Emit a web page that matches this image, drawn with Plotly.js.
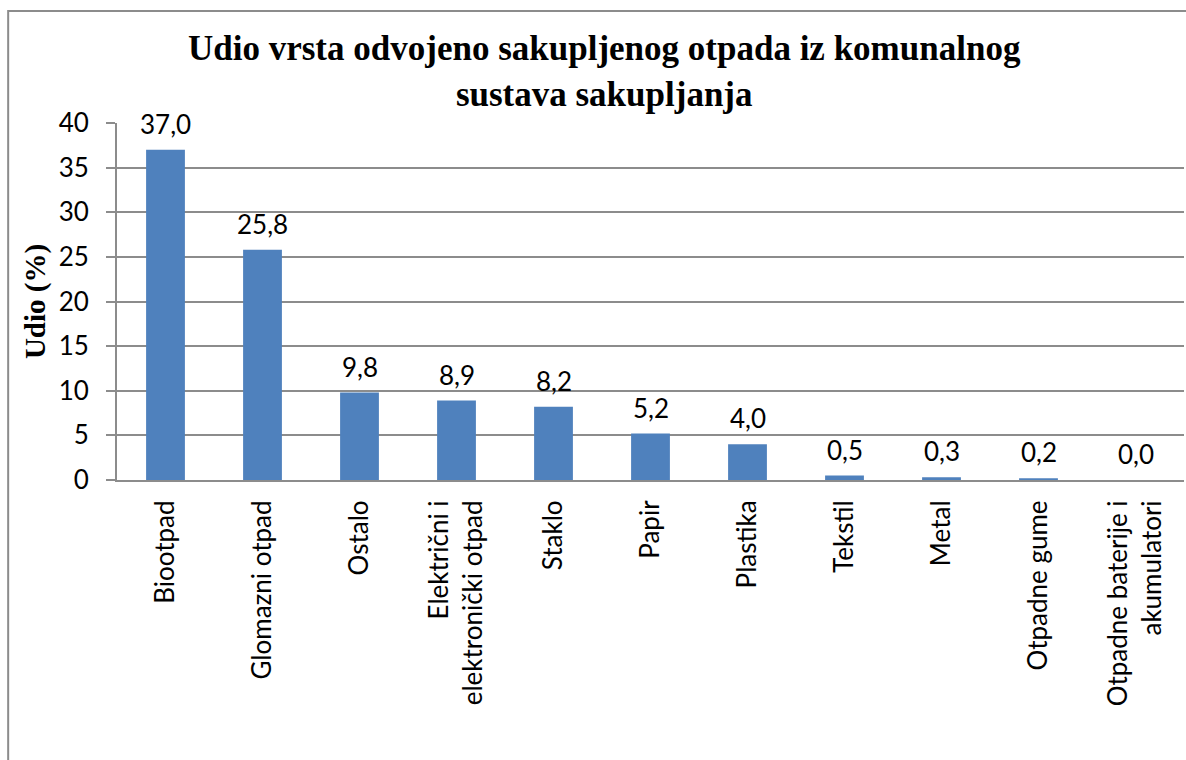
<!DOCTYPE html>
<html>
<head>
<meta charset="utf-8">
<script src="https://cdn.plot.ly/plotly-3.0.1.min.js"></script>
<style>
  body { margin: 0; background: #fff; }
  #chart { width: 1186px; height: 760px; }
</style>
</head>
<body>
<div id="chart"></div>
<script>
// kategorije otpada i udjeli (%)
var categories = [
  'Biootpad',
  'Glomazni otpad',
  'Ostalo',
  'Električni i<br>elektronički otpad',
  'Staklo',
  'Papir',
  'Plastika',
  'Tekstil',
  'Metal',
  'Otpadne gume',
  'Otpadne baterije i<br>akumulatori'
];
var shares = [37.0, 25.8, 9.8, 8.9, 8.2, 5.2, 4.0, 0.5, 0.3, 0.2, 0.0];
var yTicks = [0, 5, 10, 15, 20, 25, 30, 35, 40];

var labelFont = {family: 'Lato, "Noto Sans", sans-serif', size: 26, color: '#000'};
var serifFont = 'Liberation Serif, "Times New Roman", serif';

var udio = {
  x: categories,
  y: shares,
  type: 'bar',
  marker: {color: '#4F81BD'},
  hoverinfo: 'x+y'
};

// oznake vrijednosti iznad stupaca (decimalni zarez)
var valueLabels = shares.map(function(v, i) {
  return {
    x: categories[i],
    y: v,
    xref: 'x', yref: 'y',
    text: v.toFixed(1).replace('.', ','),
    showarrow: false,
    yanchor: 'bottom',
    yshift: 8,
    font: labelFont
  };
});

var titleNote = {
  text: '<b>Udio vrsta odvojeno sakupljenog otpada iz komunalnog<br>sustava sakupljanja</b>',
  xref: 'paper', yref: 'paper',
  x: 0.457, y: 1.27,
  xanchor: 'center', yanchor: 'top',
  showarrow: false,
  align: 'center',
  font: {family: serifFont, size: 35, color: '#000'}
};

var layout = {
  width: 1186,
  height: 760,
  margin: {l: 117, r: 2, t: 123, b: 280},
  paper_bgcolor: '#fff',
  plot_bgcolor: '#fff',
  bargap: 0.6,
  showlegend: false,
  xaxis: {
    type: 'category',
    tickangle: -90,
    tickfont: labelFont,
    ticklabelstandoff: 8,
    showgrid: false,
    showline: true,
    linecolor: '#8c8c8c',
    linewidth: 2,
    ticks: '',
    zeroline: false,
    fixedrange: true
  },
  yaxis: {
    range: [0, 40],
    tickvals: yTicks,
    tickfont: labelFont,
    ticklabelstandoff: 12,
    showgrid: true,
    gridcolor: '#8c8c8c',
    gridwidth: 2,
    showline: true,
    linecolor: '#8c8c8c',
    linewidth: 2,
    ticks: 'outside',
    ticklen: 9,
    tickwidth: 2,
    tickcolor: '#8c8c8c',
    zeroline: false,
    fixedrange: true,
    title: {
      text: '<b>Udio (%)</b>',
      font: {family: serifFont, size: 29, color: '#000'},
      standoff: 4
    }
  },
  annotations: [titleNote].concat(valueLabels),
  // okvir oko grafikona
  shapes: [{
    type: 'rect',
    xref: 'paper', yref: 'paper',
    x0: -0.102, x1: 1.05,
    y0: -1.2, y1: 1.3137,
    line: {color: '#8c8c8c', width: 2},
    fillcolor: 'rgba(0,0,0,0)'
  }]
};

Plotly.newPlot('chart', [udio], layout, {displayModeBar: false, staticPlot: true});
</script>
</body>
</html>
